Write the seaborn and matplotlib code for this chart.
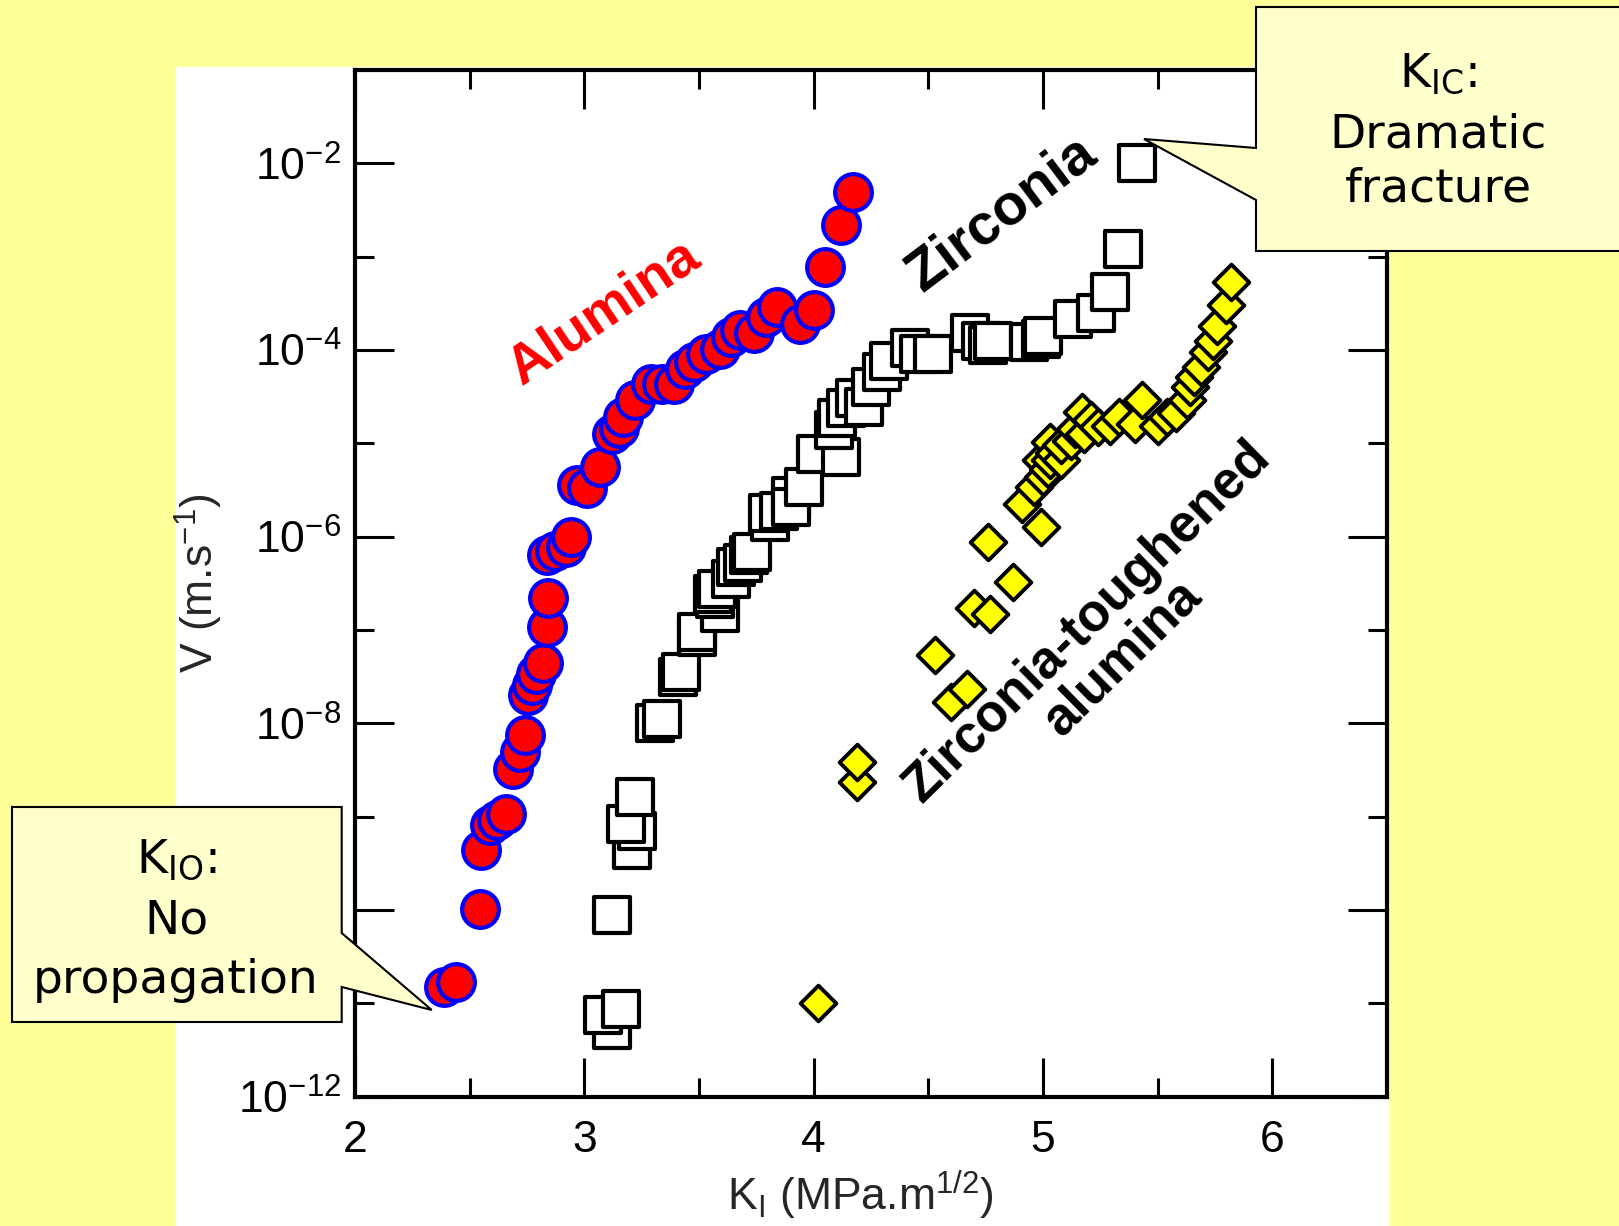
import numpy as np
import pandas as pd
import matplotlib
matplotlib.use("Agg")
import matplotlib.pyplot as plt
import seaborn as sns
from matplotlib.patches import Rectangle, Polygon
from matplotlib.ticker import FixedLocator, NullFormatter, LogFormatterSciNotation

# ---- crack velocity V (m/s) versus stress intensity factor K_I (MPa.m^1/2) ----
alumina_K = [2.39, 2.44, 2.545, 2.55, 2.59, 2.62, 2.66, 2.69, 2.72, 2.74,
             2.755, 2.77, 2.79, 2.82, 2.836, 2.843, 2.836, 2.87, 2.92, 2.94,
             2.97, 3.01, 3.07, 3.12, 3.15, 3.17, 3.22, 3.29, 3.34, 3.39,
             3.44, 3.48, 3.53, 3.59, 3.64, 3.68, 3.74, 3.79, 3.84, 3.94,
             4.00, 4.05, 4.12, 4.17]
alumina_V = [1.48e-11, 1.70e-11, 1.02e-10, 4.37e-10, 8.13e-10, 9.12e-10, 1.07e-9, 3.24e-9, 4.90e-9, 7.41e-9,
             2.00e-8, 2.57e-8, 3.39e-8, 4.37e-8, 1.07e-7, 2.19e-7, 6.31e-7, 7.08e-7, 7.76e-7, 1.00e-6,
             3.55e-6, 3.31e-6, 5.62e-6, 1.26e-5, 1.45e-5, 1.91e-5, 2.88e-5, 4.37e-5, 4.37e-5, 4.37e-5,
             6.31e-5, 7.41e-5, 9.12e-5, 1.02e-4, 1.38e-4, 1.62e-4, 1.51e-4, 2.24e-4, 2.88e-4, 1.91e-4,
             2.69e-4, 7.76e-4, 2.19e-3, 4.90e-3]

zirconia_K = [3.12, 3.08, 3.16, 3.12, 3.21, 3.23, 3.18, 3.22, 3.31, 3.34,
              3.41, 3.42, 3.49, 3.49, 3.59, 3.57, 3.56, 3.58, 3.64, 3.66,
              3.69, 3.72, 3.73, 3.81, 3.80, 3.85, 3.90, 3.90, 3.96, 4.01,
              4.12, 4.09, 4.10, 4.14, 4.18, 4.22, 4.25, 4.30, 4.33, 4.42,
              4.46, 4.52, 4.68, 4.73, 4.76, 4.78, 4.94, 4.99, 5.00, 5.13,
              5.23, 5.29, 5.35, 5.41]
zirconia_V = [5.13e-12, 7.41e-12, 8.71e-12, 8.71e-11, 4.37e-10, 7.08e-10, 8.32e-10, 1.62e-9, 1.00e-8, 1.12e-8,
              3.16e-8, 3.55e-8, 8.32e-8, 9.55e-8, 1.51e-7, 2.14e-7, 2.45e-7, 2.75e-7, 3.55e-7, 4.68e-7,
              5.25e-7, 6.31e-7, 6.76e-7, 1.45e-6, 1.78e-6, 1.86e-6, 2.75e-6, 2.09e-6, 3.39e-6, 7.59e-6,
              7.08e-6, 1.38e-5, 1.86e-5, 2.40e-5, 3.09e-5, 2.45e-5, 3.98e-5, 5.75e-5, 7.59e-5, 1.05e-4,
              9.12e-5, 9.12e-5, 1.51e-4, 1.26e-4, 1.12e-4, 1.26e-4, 1.23e-4, 1.32e-4, 1.41e-4, 2.14e-4,
              2.51e-4, 4.17e-4, 1.20e-3, 1.00e-2]

zta_K = [4.02, 4.19, 4.19, 4.53, 4.60, 4.67, 4.70, 4.77, 4.76, 4.87,
         4.91, 4.99, 4.96, 5.00, 4.99, 5.02, 5.03, 5.03, 5.05, 5.08,
         5.08, 5.12, 5.14, 5.17, 5.18, 5.21, 5.24, 5.29, 5.33, 5.40,
         5.43, 5.50, 5.54, 5.58, 5.63, 5.64, 5.66, 5.69, 5.72, 5.74,
         5.76, 5.80, 5.82]
zta_V = [1.00e-11, 2.34e-9, 3.80e-9, 5.37e-8, 1.70e-8, 2.34e-8, 1.70e-7, 1.48e-7, 8.71e-7, 3.24e-7,
         2.24e-6, 1.26e-6, 3.39e-6, 4.37e-6, 6.61e-6, 5.25e-6, 6.61e-6, 1.02e-5, 7.94e-6, 6.61e-6,
         9.55e-6, 1.07e-5, 1.41e-5, 2.19e-5, 1.26e-5, 1.78e-5, 1.48e-5, 1.55e-5, 1.91e-5, 1.62e-5,
         2.88e-5, 1.55e-5, 1.91e-5, 2.09e-5, 2.88e-5, 3.98e-5, 5.13e-5, 6.61e-5, 9.55e-5, 1.26e-4,
         1.82e-4, 3.02e-4, 5.37e-4]

x_major = [2, 3, 4, 5, 6]
x_minor = [2.5, 3.5, 4.5, 5.5]
y_major = [1e-12, 1e-10, 1e-8, 1e-6, 1e-4, 1e-2]
y_minor = [1e-11, 1e-9, 1e-7, 1e-5, 1e-3]

sns.set_style("ticks")
plt.rcParams["font.family"] = ["Liberation Sans", "DejaVu Sans"]
plt.rcParams["mathtext.default"] = "regular"
plt.rcParams["axes.unicode_minus"] = False

W, H = 1619, 1226
fig = plt.figure(figsize=(W / 100, H / 100), dpi=100, facecolor="#FFFF99")


def fx(px):
    return px / W


def fy(py):
    return 1 - py / H


# white slide panel behind the plot
fig.patches.append(Rectangle((fx(176), 0), fx(1389) - fx(176), fy(67),
                             transform=fig.transFigure, facecolor="white",
                             edgecolor="none", zorder=-5))

ax = fig.add_axes([fx(355), fy(1096.5), fx(1387) - fx(355), fy(70) - fy(1096.5)])

alumina = pd.DataFrame({"K": alumina_K, "V": alumina_V})
zirconia = pd.DataFrame({"K": zirconia_K, "V": zirconia_V})
zta = pd.DataFrame({"K": zta_K, "V": zta_V})

sns.scatterplot(data=alumina, x="K", y="V", ax=ax, marker="o", s=700,
                color="#FF0000", edgecolor="#0000FF", linewidth=3, zorder=3)
sns.scatterplot(data=zirconia, x="K", y="V", ax=ax, marker="s", s=680,
                color="white", edgecolor="black", linewidth=3, zorder=3)
sns.scatterplot(data=zta, x="K", y="V", ax=ax, marker="D", s=330,
                color="#FFFF00", edgecolor="black", linewidth=2.8, zorder=3)

ax.set_yscale("log")
ax.set_xlim(2, 6.5)
ax.set_ylim(1e-12, 1e-1)
ax.xaxis.set_major_locator(FixedLocator(x_major))
ax.xaxis.set_minor_locator(FixedLocator(x_minor))
ax.yaxis.set_major_locator(FixedLocator(y_major))
ax.yaxis.set_minor_locator(FixedLocator(y_minor))
ax.yaxis.set_major_formatter(LogFormatterSciNotation())
ax.yaxis.set_minor_formatter(NullFormatter())

for sp in ax.spines.values():
    sp.set_linewidth(3)
    sp.set_color("black")
ax.tick_params(which="both", direction="in", top=True, right=True,
               width=2.2, colors="black", labelsize=32)
ax.tick_params(which="major", length=28)
ax.tick_params(which="minor", length=14)
ax.tick_params(axis="y", which="major", pad=10)
ax.tick_params(axis="x", which="major", pad=17)

ax.set_xlabel("K$_{I}$ (MPa.m$^{1/2}$)", fontsize=32)
ax.set_ylabel("V (m.s$^{-1}$)", fontsize=32)
ax.xaxis.set_label_coords(0.49, -0.07)
ax.yaxis.set_label_coords(-0.126, 0.5)

# series names written along the curves
ax.text(3.088, 2.5e-4, "Alumina", color="#FF0000", fontsize=40, fontweight="bold",
        rotation=34, rotation_mode="anchor", ha="center", va="center")
ax.text(4.82, 2.85e-3, "Zirconia", color="black", fontsize=41, fontweight="bold",
        rotation=37, rotation_mode="anchor", ha="center", va="center")
ax.text(5.27, 7.8e-8, "Zirconia-toughened\nalumina", color="black", fontsize=38,
        fontweight="bold", rotation=44.5, rotation_mode="anchor", ha="center",
        va="center", multialignment="center", linespacing=1.0)

# speech-bubble callouts
callout_fill = "#FFFFCC"
bubble_low = [(12, 807), (341.7, 807), (341.7, 933), (431.7, 1010),
              (341.7, 987), (341.7, 1022), (12, 1022)]
bubble_high = [(1256, 7), (1630, 7), (1630, 251), (1256, 251),
               (1256, 200), (1144, 139), (1256, 148)]
for pts in (bubble_low, bubble_high):
    fig.patches.append(Polygon([(fx(x), fy(y)) for x, y in pts], closed=True,
                               transform=fig.transFigure, facecolor=callout_fill,
                               edgecolor="black", linewidth=1.5, zorder=5))

cfont = dict(fontsize=34, family="DejaVu Sans", ha="center", va="baseline",
             color="black", zorder=6)
fig.text(fx(176), fy(872), "K$_{IO}$:", **cfont)
fig.text(fx(176), fy(933), "No", **cfont)
fig.text(fx(176), fy(993), "propagation", **cfont)
fig.text(fx(1438), fy(86), "K$_{IC}$:", **cfont)
fig.text(fx(1438), fy(147), "Dramatic", **cfont)
fig.text(fx(1438), fy(201), "fracture", **cfont)

fig.savefig("out.png", dpi=100, facecolor=fig.get_facecolor())
